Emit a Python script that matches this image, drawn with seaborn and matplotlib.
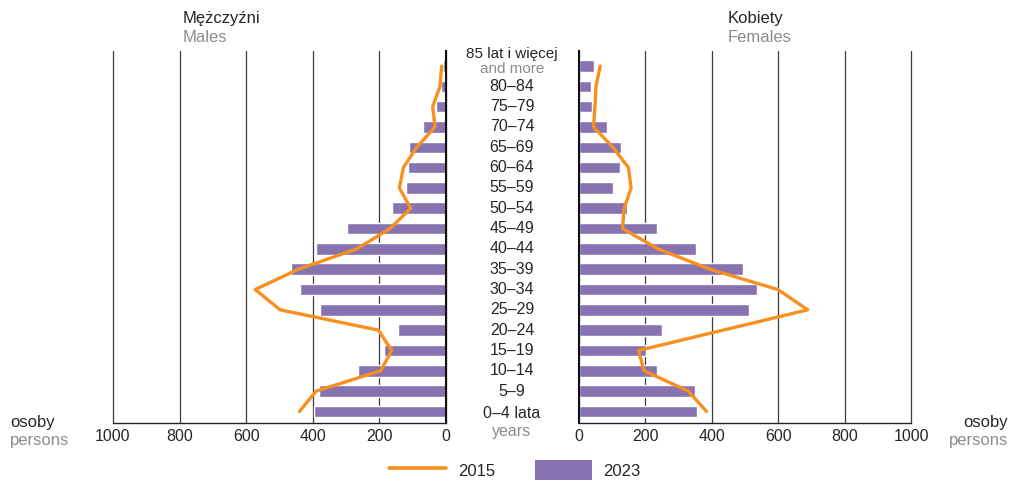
import numpy as np
import matplotlib
matplotlib.use("Agg")
import matplotlib.pyplot as plt
import matplotlib.transforms as mtransforms
from matplotlib.lines import Line2D
from matplotlib.patches import Patch
import seaborn as sns

# --- data (top row = oldest group) ---
ages = ["85 lat i więcej", "80–84", "75–79", "70–74", "65–69", "60–64", "55–59",
        "50–54", "45–49", "40–44", "35–39", "30–34", "25–29", "20–24", "15–19",
        "10–14", "5–9", "0–4 lata"]
males_2023 = [10, 15, 31, 69, 111, 115, 121, 162, 297, 390, 465, 438, 378, 144, 186, 263, 381, 396]
females_2023 = [46, 37, 40, 84, 126, 124, 103, 144, 235, 352, 493, 535, 511, 250, 202, 235, 349, 355]
males_2015 = [13, 18, 40, 33, 88, 128, 140, 106, 168, 268, 443, 573, 498, 203, 163, 196, 390, 440]
females_2015 = [64, 51, 48, 44, 102, 149, 157, 136, 131, 238, 394, 599, 689, 434, 179, 196, 329, 384]
x_ticks = [0, 200, 400, 600, 800, 1000]

PURPLE = "#8773b2"
ORANGE = "#f7901e"
GRAY = "#8c8c8c"
GRID = "#3a3a3a"

sns.set_theme(style="white")
plt.rcParams["font.family"] = ["Liberation Sans", "DejaVu Sans"]
plt.rcParams["font.size"] = 11.5

fig = plt.figure(figsize=(10.18, 4.82), dpi=100)
ax_m = fig.add_axes([113 / 1018, 59 / 482, 333 / 1018, 372 / 482])
ax_f = fig.add_axes([579 / 1018, 59 / 482, 332 / 1018, 372 / 482])

pos = np.arange(len(ages))

for ax, v23, v15 in [(ax_m, males_2023, males_2015), (ax_f, females_2023, females_2015)]:
    sns.barplot(x=v23, y=ages, orient="h", color=PURPLE, width=0.57,
                saturation=1, ax=ax, zorder=2)
    sns.lineplot(x=v15, y=pos, sort=False, orient="y", color=ORANGE,
                 lw=2.4, ax=ax, zorder=3)
    ax.set_ylim(len(ages) - 1 + 0.57, -0.74)
    ax.set_xticks(x_ticks)
    ax.set_yticks([])
    ax.set_xlabel("")
    ax.set_ylabel("")
    ax.tick_params(axis="x", length=0, pad=4, labelsize=11.5)
    ax.grid(axis="x", color=GRID, lw=0.9)
    for gl in ax.xaxis.get_gridlines():
        gl.set_clip_on(False)
    ax.set_axisbelow(True)
    for s in ax.spines.values():
        s.set_visible(False)
    ax.spines["bottom"].set_visible(True)
    ax.spines["bottom"].set_color("#222222")
    ax.spines["bottom"].set_linewidth(1.0)

ax_m.set_xlim(1000, 0)
ax_m.spines["right"].set_visible(True)
ax_m.spines["right"].set_color("#111111")
ax_m.spines["right"].set_linewidth(1.5)
ax_f.set_xlim(0, 1000)
ax_f.spines["left"].set_visible(True)
ax_f.spines["left"].set_color("#111111")
ax_f.spines["left"].set_linewidth(1.5)

# age labels in the middle
trans = mtransforms.blended_transform_factory(fig.transFigure, ax_m.transData)
cx = 512 / 1018
for i, lab in enumerate(ages):
    if i == 0:
        ax_m.text(cx, i - 0.6, lab, transform=trans, ha="center", va="center", fontsize=11)
        ax_m.text(cx, i + 0.16, "and more", transform=trans, ha="center", va="center",
                  fontsize=11, color=GRAY)
    elif i == len(ages) - 1:
        ax_m.text(cx, i + 0.1, lab, transform=trans, ha="center", va="center", fontsize=11.5)
        ax_m.text(cx, i + 0.97, "years", transform=trans, ha="center", va="center",
                  fontsize=11.5, color=GRAY)
    else:
        ax_m.text(cx, i, lab, transform=trans, ha="center", va="center", fontsize=11.5)

# headers
fig.text(183 / 1018, 1 - 18 / 482, "Mężczyźni", ha="left", va="center", fontsize=12)
fig.text(183 / 1018, 1 - 37 / 482, "Males", ha="left", va="center", fontsize=12, color=GRAY)
fig.text(728 / 1018, 1 - 18 / 482, "Kobiety", ha="left", va="center", fontsize=12)
fig.text(728 / 1018, 1 - 37 / 482, "Females", ha="left", va="center", fontsize=12, color=GRAY)

# unit labels
fig.text(10 / 1018, 1 - 423 / 482, "osoby", ha="left", va="center", fontsize=12)
fig.text(10 / 1018, 1 - 441 / 482, "persons", ha="left", va="center", fontsize=12, color=GRAY)
fig.text(1008 / 1018, 1 - 423 / 482, "osoby", ha="right", va="center", fontsize=12)
fig.text(1008 / 1018, 1 - 441 / 482, "persons", ha="right", va="center", fontsize=12, color=GRAY)

handles = [Line2D([0], [0], color=ORANGE, lw=2.6),
           Patch(facecolor=PURPLE, edgecolor="none")]
fig.legend(handles, ["2015", "2023"], loc="center", bbox_to_anchor=(515 / 1018, 1 - 470 / 482),
           ncol=2, frameon=False, fontsize=12, handlelength=3.4, handleheight=1.4,
           columnspacing=2.4, handletextpad=0.7)

fig.savefig("out.png", dpi=100)
